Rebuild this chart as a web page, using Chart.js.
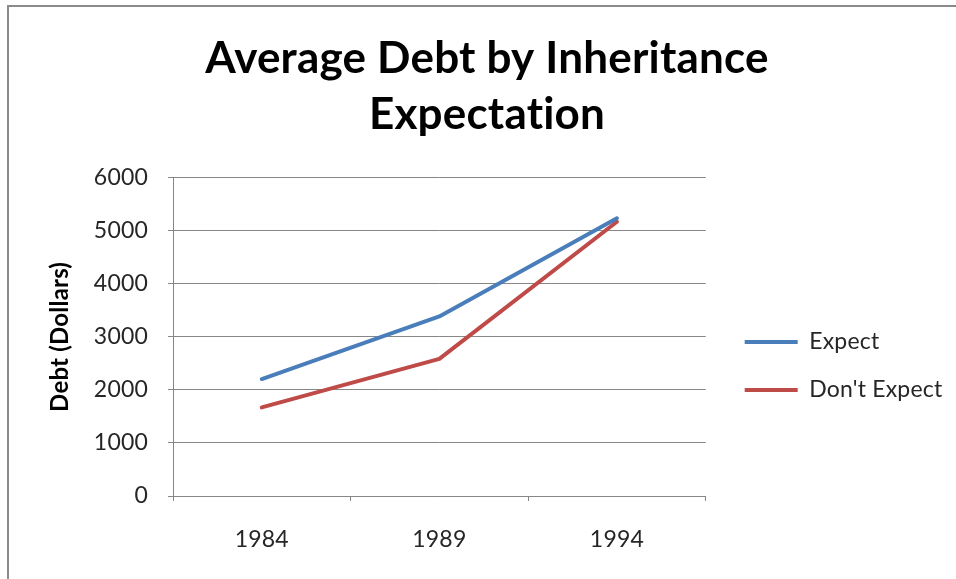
<!DOCTYPE html>
<html>
<head>
<meta charset="utf-8">
<script src="https://cdn.jsdelivr.net/npm/chart.js@4/dist/chart.umd.min.js"></script>
<style>
  html, body { margin: 0; padding: 0; background: #ffffff; overflow: hidden; }
  #wrap { position: relative; width: 956px; height: 579px; }
  #frame { position: absolute; left: 7px; top: 5px; width: 1100px; height: 1100px; border: 2px solid #8a8a8a; box-sizing: border-box; }
  canvas { position: absolute; left: 0; top: 0; }
</style>
</head>
<body>
<div id="wrap">
  <div id="frame"></div>
  <canvas id="c" width="956" height="579"></canvas>
</div>
<script>
const titleLines = ["Average Debt by Inheritance", "Expectation"];
const yAxisTitle = "Debt (Dollars)";
const years = ["1984", "1989", "1994"];
const expectValues = [2205, 3385, 5235];
const dontExpectValues = [1670, 2585, 5170];
const seriesNames = ["Expect", "Don't Expect"];
const seriesColors = ["#4a7ebb", "#be4b48"];
const yTickMin = 0;
const yTickMax = 6000;
const yTickStep = 1000;

const FONT = "Lato, 'Open Sans', sans-serif";
const gridColor = "#878787";
const LEGEND_GAP = 14;

const noLigatures = {
  id: "noLigatures",
  beforeDraw(chart) { chart.ctx.letterSpacing = "0.2px"; }
};
const legendGap = {
  id: "legendGap",
  afterLayout(chart) {
    const lg = chart.legend;
    if (lg) { lg.left += LEGEND_GAP; lg.right += LEGEND_GAP; }
  }
};

new Chart(document.getElementById("c"), {
  type: "line",
  data: {
    labels: years,
    datasets: [
      { label: seriesNames[0], data: expectValues, borderColor: seriesColors[0], backgroundColor: seriesColors[0] },
      { label: seriesNames[1], data: dontExpectValues, borderColor: seriesColors[1], backgroundColor: seriesColors[1] }
    ]
  },
  plugins: [noLigatures, legendGap],
  options: {
    responsive: false,
    animation: false,
    devicePixelRatio: 1,
    layout: { padding: { left: 38, right: 20, top: 0, bottom: 0 } },
    elements: {
      line: { borderWidth: 4, tension: 0, borderCapStyle: "round", borderJoinStyle: "round" },
      point: { radius: 0, hoverRadius: 0 }
    },
    plugins: {
      tooltip: { enabled: false },
      title: {
        display: true,
        text: titleLines,
        color: "#000000",
        font: { family: FONT, size: 44, weight: "bold", lineHeight: 1.27 },
        padding: { top: 31, bottom: 35 }
      },
      legend: {
        display: true,
        position: "right",
        align: "center",
        maxWidth: 244,
        title: { display: true, text: " ", font: { size: 10, lineHeight: 1 }, padding: { top: 0, bottom: 143 } },
        labels: {
          boxWidth: 53,
          boxHeight: 4,
          padding: 25,
          color: "#262626",
          font: { family: FONT, size: 23 },
          generateLabels: chart => Chart.defaults.plugins.legend.labels.generateLabels(chart).map(l => Object.assign(l, { lineWidth: 0 }))
        }
      }
    },
    scales: {
      x: {
        type: "category",
        offset: true,
        grid: { display: true, drawOnChartArea: false, drawTicks: true, tickLength: 5, color: gridColor, offset: true },
        border: { display: true, color: gridColor, width: 1 },
        ticks: { color: "#262626", padding: 25, font: { family: FONT, size: 23 } },
        afterFit: s => { s.height = 83; }
      },
      y: {
        type: "linear",
        min: yTickMin,
        max: yTickMax,
        grid: { color: gridColor, tickLength: 5, drawTicks: true },
        border: { display: true, color: gridColor, width: 1 },
        ticks: { stepSize: yTickStep, color: "#262626", padding: 20, font: { family: FONT, size: 23 }, callback: v => String(v) },
        title: { display: true, text: yAxisTitle, color: "#000000", font: { family: FONT, size: 24, weight: "bold", lineHeight: 1.2 }, padding: { top: 8, bottom: 0 } },
        afterFit: s => { s.width = 135; }
      }
    }
  }
});
</script>
</body>
</html>
